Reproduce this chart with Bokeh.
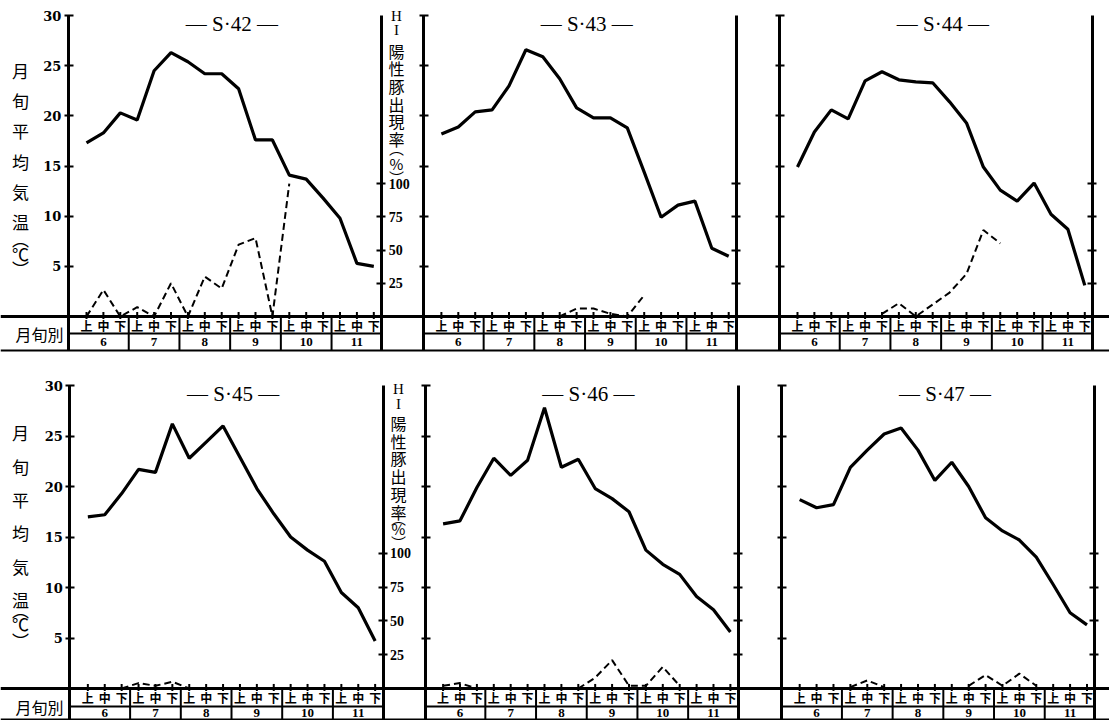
import numpy as np
from bokeh.plotting import figure
from bokeh.models import Range1d, LinearAxis, FixedTicker, Span
from bokeh.layouts import column
from bokeh.embed import file_html
from bokeh.resources import INLINE
from bokeh.core.properties import value

# ---------------- data ----------------
dekads = ["上", "中", "下"]
months = ["6", "7", "8", "9", "10", "11"]
years = ["42", "43", "44", "45", "46", "47"]
temp_ticks = [5, 10, 15, 20, 25, 30]
hi_ticks = [25, 50, 75, 100]

# mean air temperature per dekad (6上 ... 11下), deg C
temp_s42 = [17.3, 18.3, 20.3, 19.6, 24.5, 26.3, 25.4, 24.2, 24.2, 22.7, 17.6, 17.6, 14.1, 13.7, 11.8, 9.8, 5.3, 5.0]
temp_s43 = [18.2, 18.9, 20.4, 20.6, 23.0, 26.6, 25.9, 23.7, 20.8, 19.8, 19.8, 18.8, 14.4, 9.9, 11.1, 11.5, 6.8, 6.0]
temp_s44 = [14.9, 18.4, 20.6, 19.7, 23.5, 24.4, 23.6, 23.4, 23.3, 21.4, 19.3, 14.9, 12.6, 11.5, 13.3, 10.2, 8.7, 3.1]
temp_s45 = [17.0, 17.2, 19.3, 21.7, 21.4, 26.2, 22.8, 24.4, 26.0, 22.9, 19.8, 17.3, 15.0, 13.7, 12.6, 9.5, 8.0, 4.7]
temp_s46 = [16.3, 16.6, 19.9, 22.8, 21.1, 22.6, 27.8, 21.9, 22.7, 19.8, 18.8, 17.5, 13.7, 12.3, 11.3, 9.1, 7.8, 5.6]
temp_s47 = [18.7, 17.9, 18.2, 21.9, 23.6, 25.2, 25.8, 23.6, 20.6, 22.4, 20.0, 16.9, 15.6, 14.7, 13.0, 10.3, 7.5, 6.3]

# HI positive pig rate per dekad, % (None = not shown)
hi_s42 = [0, 20, 0, 7, 0, 25, 0, 30, 21, 54, 59, 0, 100, None, None, None, None, None]
hi_s43 = [None, None, None, None, None, None, None, 0, 6, 6, 2, 0, 16, None, None, None, None, None]
hi_s44 = [None, None, None, None, None, 2, 10, 0, 9, 18, 32, 65, 55, None, None, None, None, None]
hi_s45 = [None, None, 0, 4, 2, 5, 0, None, None, None, None, None, None, None, None, None, None, None]
hi_s46 = [2, 4, 0, None, None, None, None, None, 0, 8, 21, 2, 2, 16, 2, None, None, None]
hi_s47 = [None, None, None, 1, 6, 1, None, None, None, None, 2, 10, 2, 11, 2, None, None, None]

temps = [temp_s42, temp_s43, temp_s44, temp_s45, temp_s46, temp_s47]
his = [hi_s42, hi_s43, hi_s44, hi_s45, hi_s46, hi_s47]

left_title = ["月", "旬", "平", "均", "気", "温"]
hi_title_latin = ["H", "I"]
hi_title_cjk = ["陽", "性", "豚", "出", "現", "率"]
paren_open, paren_close = "︵", "︶"
table_head = "月旬別"

# ---------------- layout ----------------
PX = 16.9          # pixels per dekad
W = 1109
X_START = -86 / PX
X_END = X_START + W / PX
JP = value("Noto Sans CJK JP")
SERIF = value("Liberation Serif")

rows = [
    dict(h=355, deg_px=10.03, zero_px=316, hi_deg=13.26, offs=[0.0, 21.0, 42.07], div=-1.69, bot=-3.39,
         lt_y0=24.5, lt_step=3.0, lt_par=(7.8, 6.3, 4.8), lt_x=-3.9, head_y=-1.7,
         ht_x=18.34, ht_latin=(30.0, 28.6), ht_y0=26.5, ht_par=(16.8, 15.3, 13.9)),
    dict(h=365, deg_px=10.1, zero_px=333, hi_deg=13.37, offs=[0.08, 21.1, 42.2], div=-1.78, bot=-3.07,
         lt_y0=25.3, lt_step=3.3, lt_par=(7.8, 6.4, 4.8), lt_x=-3.9, head_y=-1.85,
         ht_x=18.46, ht_latin=(29.7, 28.2), ht_y0=26.3, ht_par=(16.9, 15.8, 14.5)),
]


def to_arr(vals):
    return np.array([np.nan if v is None else v for v in vals], dtype=float)


def build_row(r, spec):
    y_top = spec["zero_px"] / spec["deg_px"]
    y_bot = y_top - spec["h"] / spec["deg_px"]
    K = 100.0 / spec["hi_deg"]
    bot, div = spec["bot"], spec["div"]
    p = figure(width=W, height=spec["h"], x_range=Range1d(X_START, X_END),
               y_range=Range1d(y_bot, y_top), x_axis_location=None, y_axis_location=None,
               toolbar_location=None, output_backend="svg", min_border=0,
               outline_line_color=None, background_fill_color="white",
               border_fill_color="white")
    p.grid.visible = False
    p.extra_y_ranges = {"hi": Range1d(y_bot * K, y_top * K)}

    # table horizontal lines spanning the whole width
    p.add_layout(Span(location=0, dimension="width", line_color="black", line_width=3))
    p.add_layout(Span(location=bot, dimension="width", line_color="black", line_width=2))

    for k, off in enumerate(spec["offs"]):
        idx = 3 * r + k
        xl, xr = off - 1.07, off + 17.47
        # temperature axis
        la = LinearAxis(fixed_location=xl, ticker=FixedTicker(ticks=temp_ticks), bounds=(bot, 30),
                        axis_line_width=3, axis_line_color="black",
                        major_tick_line_width=2, major_tick_in=5, major_tick_out=4,
                        minor_tick_line_color=None, major_label_standoff=3,
                        major_label_text_font="DejaVu Serif", major_label_text_font_size="13px",
                        major_label_text_font_style="bold", major_label_text_color="black")
        if k > 0:
            la.major_label_overrides = {t: "" for t in temp_ticks}
        p.add_layout(la, "left")
        # HI rate axis
        ra = LinearAxis(y_range_name="hi", fixed_location=xr, ticker=FixedTicker(ticks=hi_ticks),
                        bounds=(bot * K, 30 * K),
                        axis_line_width=3, axis_line_color="black",
                        major_tick_line_width=2, major_tick_in=5, major_tick_out=4,
                        minor_tick_line_color=None, major_label_standoff=3,
                        major_label_text_font="Liberation Serif", major_label_text_font_size="14px",
                        major_label_text_font_style="bold", major_label_text_color="black")
        if k > 0:
            ra.major_label_overrides = {t: "" for t in hi_ticks}
        p.add_layout(ra, "right")

        xs = [off + i for i in range(18)]
        # table: row divider, month dividers, dekad ticks
        p.segment(x0=[xl], y0=[div], x1=[xr], y1=[div], line_color="black", line_width=2)
        mx = [off + 3 * m + 2.5 for m in range(5)]
        p.segment(x0=mx, y0=[0] * 5, x1=mx, y1=[bot] * 5, line_color="black", line_width=2)
        p.segment(x0=xs, y0=[-0.25] * 18, x1=xs, y1=[0.45] * 18, line_color="black", line_width=2)
        p.text(x=xs, y=[div / 2 - 0.05] * 18, text=[dekads[i % 3] for i in range(18)],
               text_font=JP, text_font_size="12px", text_font_style="bold", text_align="center",
               text_baseline="middle", text_color="black")
        p.text(x=[off + 3 * m + 1 for m in range(6)], y=[(div + bot) / 2] * 6, text=months,
               text_font=SERIF, text_font_size="13px", text_font_style="bold",
               text_align="center", text_baseline="middle", text_color="black")

        # data
        p.line(x=xs, y=temps[idx], line_color="black", line_width=3.2)
        p.line(x=xs, y=to_arr(his[idx]), y_range_name="hi", line_color="black",
               line_width=2, line_dash="7 4")

        # panel title
        p.text(x=[off + 8.6], y=[29.2], text=["— S·" + years[idx] + " —"], text_font=SERIF,
               text_font_size="21px", text_align="center", text_baseline="middle",
               text_color="black")

    # left vertical title
    n = len(left_title)
    p.text(x=[spec["lt_x"]] * n, y=[spec["lt_y0"] - spec["lt_step"] * i for i in range(n)],
           text=left_title, text_font=JP, text_font_size="17px", text_align="center",
           text_baseline="middle", text_color="black")
    p.text(x=[spec["lt_x"]] * 3, y=list(spec["lt_par"]), text=[paren_open, "℃", paren_close],
           text_font=JP, text_font_size="17px", text_align="center", text_baseline="middle",
           text_color="black")
    p.text(x=[spec["lt_x"] + 1.12], y=[spec["head_y"]], text=[table_head], text_font=JP,
           text_font_size="16px", text_align="center", text_baseline="middle", text_color="black")

    # HI vertical title
    p.text(x=[spec["ht_x"]] * 2, y=list(spec["ht_latin"]), text=hi_title_latin, text_font=SERIF,
           text_font_size="15px", text_align="center", text_baseline="middle", text_color="black")
    m = len(hi_title_cjk)
    p.text(x=[spec["ht_x"]] * m, y=[spec["ht_y0"] - 1.76 * i for i in range(m)], text=hi_title_cjk,
           text_font=JP, text_font_size="16px", text_align="center", text_baseline="middle",
           text_color="black")
    p.text(x=[spec["ht_x"]] * 3, y=list(spec["ht_par"]), text=[paren_open, "%", paren_close],
           text_font=JP, text_font_size="15px", text_align="center", text_baseline="middle",
           text_color="black")
    return p


figs = [build_row(r, spec) for r, spec in enumerate(rows)]
layout = column(*figs, spacing=0)
open("out.html", "w").write(file_html(layout, INLINE))
